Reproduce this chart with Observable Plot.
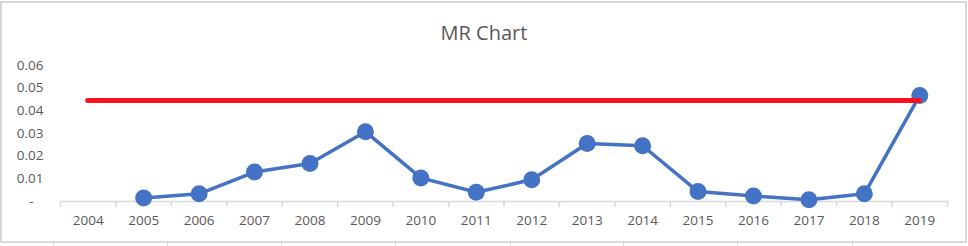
<!DOCTYPE html>
<html>
<head>
<meta charset="utf-8">
<script src="https://cdn.jsdelivr.net/npm/d3@7"></script>
<script src="https://cdn.jsdelivr.net/npm/@observablehq/plot@0.6"></script>
<style>
  html, body { margin: 0; padding: 0; background: #fff; }
  #wrap { position: relative; width: 968px; height: 246px; overflow: hidden; font-family: "Open Sans", sans-serif; }
  #frame { position: absolute; left: 0; top: 1px; width: 963px; height: 238px; border: 2px solid #d9d9d9; box-sizing: content-box; }
  #title { position: absolute; left: 0; width: 968px; top: 19px; text-align: center; font-size: 20px; color: #595959; line-height: 28px; }
  #chart { position: absolute; left: 0; top: 50px; }
  .grid { position: absolute; top: 243px; width: 1px; height: 3px; background: #d9d9d9; }
</style>
</head>
<body>
<div id="wrap">
  <div id="frame"></div>
  <div id="title">MR Chart</div>
  <div id="chart"></div>
</div>
<script>
const years = [2004, 2005, 2006, 2007, 2008, 2009, 2010, 2011, 2012, 2013, 2014, 2015, 2016, 2017, 2018, 2019];
const mrYears = [2005, 2006, 2007, 2008, 2009, 2010, 2011, 2012, 2013, 2014, 2015, 2016, 2017, 2018, 2019];
const mrValues = [0.0015, 0.0034, 0.0130, 0.0168, 0.0308, 0.0104, 0.0041, 0.0096, 0.0256, 0.0246, 0.0044, 0.0024, 0.0008, 0.0034, 0.0468];
const ucl = 0.0446;
const yTicks = [0, 0.01, 0.02, 0.03, 0.04, 0.05, 0.06];

const mr = mrYears.map((y, i) => ({year: y, value: mrValues[i]}));
const bounds = years.map(y => y - 0.5).concat([years[years.length - 1] + 0.5]);

const grey = "#d9d9d9";
const textColor = "#595959";

const plot = Plot.plot({
  width: 968,
  height: 190,
  marginLeft: 60,
  marginRight: 21,
  marginTop: 15,
  marginBottom: 39,
  style: {fontFamily: "'Open Sans', sans-serif", fontSize: "13.5px", color: textColor, background: "transparent"},
  x: {type: "linear", domain: [years[0] - 0.5, years[years.length - 1] + 0.5]},
  y: {domain: [0, 0.06]},
  marks: [
    Plot.axisY({ticks: yTicks, tickSize: 0, tickPadding: 17, fontSize: 13.5,
      tickFormat: d => d === 0 ? "-\u2007\u2009" : d.toFixed(2), label: null}),
    Plot.ruleY([0], {stroke: grey, strokeWidth: 1.5}),
    Plot.axisX({ticks: bounds, tickSize: 6, stroke: grey, strokeWidth: 1.5, strokeOpacity: 1, tickFormat: () => "", label: null}),
    Plot.axisX({ticks: years, tickSize: 0, tickPadding: 14, fontSize: 13.5, tickFormat: d => String(d), label: null}),
    Plot.line(mr, {x: "year", y: "value", stroke: "#4472C4", strokeWidth: 3.5, strokeLinejoin: "round"}),
    Plot.dot(mr, {x: "year", y: "value", r: 8.5, fill: "#4472C4", stroke: "none"}),
    Plot.ruleY([ucl], {x1: years[0], x2: years[years.length - 1], stroke: "#FF0F1F", strokeWidth: 5, strokeLinecap: "round"})
  ]
});
document.getElementById("chart").appendChild(plot);

const wrap = document.getElementById("wrap");
[53, 167, 281, 395, 510, 623, 737, 852].forEach(x => {
  const g = document.createElement("div");
  g.className = "grid";
  g.style.left = x + "px";
  wrap.appendChild(g);
});
</script>
</body>
</html>
